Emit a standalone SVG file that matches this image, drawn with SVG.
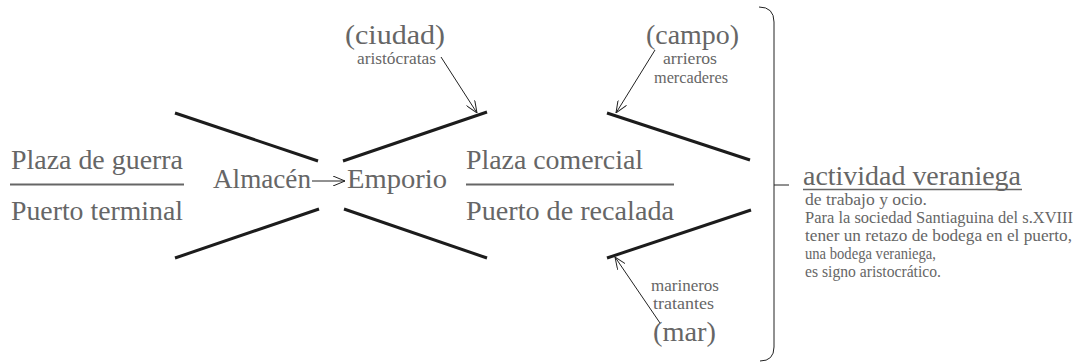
<svg xmlns="http://www.w3.org/2000/svg" width="1082" height="363" viewBox="0 0 1082 363">
<style>
  text { font-family: "Liberation Serif", "Times New Roman", serif; fill: #666666; }
  .big { font-size: 27px; }
  .par { font-size: 28px; }
  .sm { font-size: 16px; }
  .note { font-size: 16.5px; }
  .thick { stroke: #1c1c1c; stroke-width: 3; fill: none; }
  .div { stroke: #666666; stroke-width: 2; fill: none; }
  .thin { stroke: #222; stroke-width: 1; fill: none; }
</style>
<defs>
  <marker id="open" viewBox="0 0 12 10" refX="12" refY="5" markerWidth="12" markerHeight="10" markerUnits="userSpaceOnUse" orient="auto">
    <path d="M0,0 L12,5 L0,10" fill="none" stroke="#222" stroke-width="1"/>
  </marker>
</defs>
<rect width="1082" height="363" fill="#fff"/>

<g id="connectors">
  <line class="thick" x1="175" y1="113" x2="318" y2="161"/>
  <line class="thick" x1="343" y1="161" x2="487" y2="112"/>
  <line class="thick" x1="175" y1="258" x2="319" y2="209"/>
  <line class="thick" x1="344" y1="209" x2="487" y2="258"/>
  <line class="thick" x1="607" y1="113" x2="750" y2="160"/>
  <line class="thick" x1="607" y1="258" x2="751" y2="210"/>
  <line class="thin" x1="312" y1="181" x2="345" y2="181" marker-end="url(#open)"/>
  <line class="thin" x1="441" y1="57" x2="477" y2="113" marker-end="url(#open)"/>
  <line class="thin" x1="655" y1="50" x2="616" y2="113" marker-end="url(#open)"/>
  <line class="thin" x1="660" y1="323" x2="615" y2="257" marker-end="url(#open)"/>
  <path class="thin" d="M759,7 Q774,7 774,22 L774,347 Q774,361 760,361" stroke-width="1.3"/>
  <line class="thin" x1="774" y1="185" x2="789" y2="185" stroke-width="1.3"/>
</g>

<g id="node-left">
  <text class="big" x="11" y="169" textLength="172" lengthAdjust="spacingAndGlyphs">Plaza de guerra</text>
  <line class="div" x1="10" y1="184.5" x2="184" y2="184.5"/>
  <text class="big" x="11" y="220" textLength="172" lengthAdjust="spacingAndGlyphs">Puerto terminal</text>
</g>

<g id="node-almacen">
  <text class="big" x="213" y="188" textLength="98" lengthAdjust="spacingAndGlyphs">Almacén</text>
</g>

<g id="node-emporio">
  <text class="big" x="347" y="188" textLength="100" lengthAdjust="spacingAndGlyphs">Emporio</text>
</g>

<g id="node-right">
  <text class="big" x="466" y="169" textLength="177" lengthAdjust="spacingAndGlyphs">Plaza comercial</text>
  <line class="div" x1="466" y1="184.5" x2="674" y2="184.5"/>
  <text class="big" x="466" y="220" textLength="208" lengthAdjust="spacingAndGlyphs">Puerto de recalada</text>
</g>

<g id="node-ciudad">
  <text class="par" x="345" y="44" textLength="100" lengthAdjust="spacingAndGlyphs">(ciudad)</text>
  <text class="sm" x="357" y="64" textLength="79" lengthAdjust="spacingAndGlyphs">aristócratas</text>
</g>

<g id="node-campo">
  <text class="par" x="646" y="44" textLength="93" lengthAdjust="spacingAndGlyphs">(campo)</text>
  <text class="sm" x="663" y="64" textLength="54" lengthAdjust="spacingAndGlyphs">arrieros</text>
  <text class="sm" x="654" y="83" textLength="74" lengthAdjust="spacingAndGlyphs">mercaderes</text>
</g>

<g id="node-mar">
  <text class="sm" x="651" y="291" textLength="68" lengthAdjust="spacingAndGlyphs">marineros</text>
  <text class="sm" x="653" y="309" textLength="61" lengthAdjust="spacingAndGlyphs">tratantes</text>
  <text class="par" x="653" y="341" textLength="63" lengthAdjust="spacingAndGlyphs">(mar)</text>
</g>

<g id="node-actividad">
  <text class="big" x="803" y="185" textLength="218" lengthAdjust="spacingAndGlyphs" style="font-size:28px">actividad veraniega</text>
  <line x1="803" y1="189.5" x2="1022" y2="189.5" stroke="#666666" stroke-width="1.5"/>
  <text class="note" x="805" y="205" textLength="122" lengthAdjust="spacingAndGlyphs">de trabajo y ocio.</text>
  <text class="note" x="805" y="223" textLength="268" lengthAdjust="spacingAndGlyphs">Para la sociedad Santiaguina del s.XVIII</text>
  <text class="note" x="805" y="241" textLength="267" lengthAdjust="spacingAndGlyphs">tener un retazo de bodega en el puerto,</text>
  <text class="note" x="805" y="259" textLength="131" lengthAdjust="spacingAndGlyphs">una bodega veraniega,</text>
  <text class="note" x="805" y="277" textLength="136" lengthAdjust="spacingAndGlyphs">es signo aristocrático.</text>
</g>
</svg>
